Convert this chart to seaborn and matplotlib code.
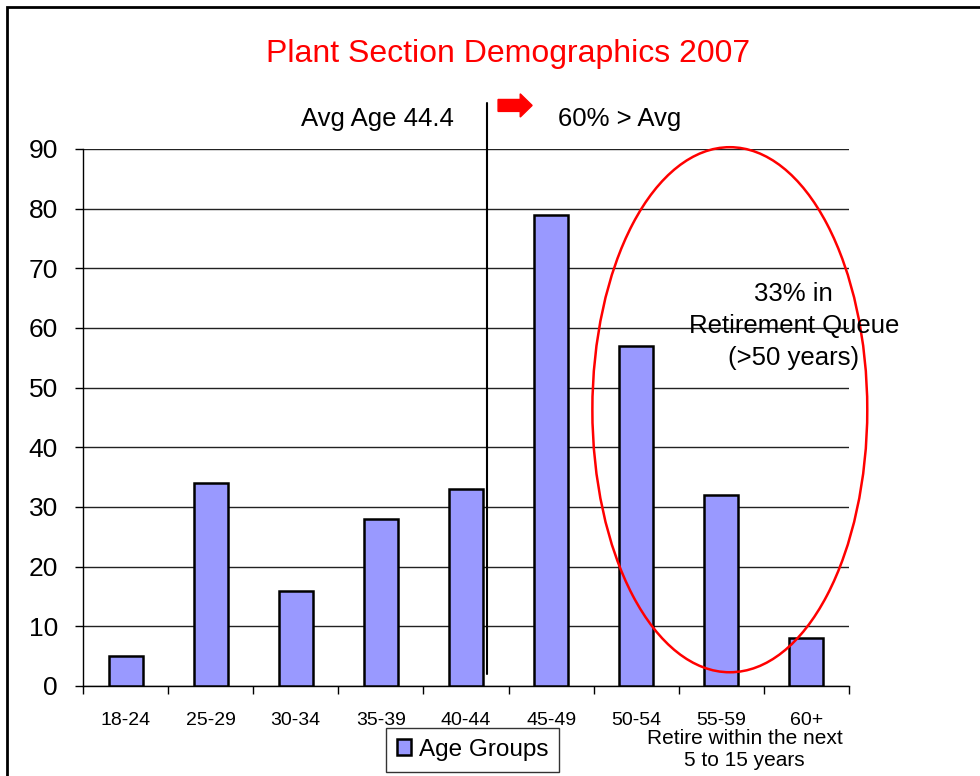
import seaborn as sns
import matplotlib.pyplot as plt
from matplotlib.patches import Ellipse, FancyArrow, Rectangle
import pandas as pd

# Données
age_groups = ["18-24", "25-29", "30-34", "35-39", "40-44", "45-49", "50-54", "55-59", "60+"]
counts = [5, 34, 16, 28, 33, 79, 57, 32, 8]
y_ticks = [0, 10, 20, 30, 40, 50, 60, 70, 80, 90]

df = pd.DataFrame({"age": age_groups, "count": counts})

sns.set_theme(style="white")
plt.rcParams["font.family"] = ["Liberation Sans", "DejaVu Sans"]
plt.rcParams["text.color"] = "black"
plt.rcParams["xtick.color"] = "black"
plt.rcParams["ytick.color"] = "black"

fig = plt.figure(figsize=(9.8, 7.76), dpi=100)
ax = fig.add_axes([0.0847, 0.116, 0.7816, 0.692])

sns.barplot(data=df, x="age", y="count", color="#9999ff", edgecolor="black",
            linewidth=1.8, width=0.4, saturation=1, label="Age Groups", ax=ax, zorder=3)

ax.set_xlim(-0.5, 8.5)
ax.set_ylim(0, 90)
ax.set_yticks(y_ticks)
ax.set_yticklabels([str(v) for v in y_ticks], fontsize=19)
ax.grid(axis="y", color="#222222", linewidth=1, zorder=0)
ax.set_xlabel("")
ax.set_ylabel("")

# ticks x entre les catégories
ax.set_xticks(range(len(age_groups)))
ax.set_xticklabels(age_groups, fontsize=14)
ax.tick_params(axis="x", length=0, pad=19)
ax.set_xticks([i - 0.5 for i in range(len(age_groups) + 1)], minor=True)
ax.tick_params(axis="x", which="minor", length=6, width=1, color="black", direction="out", bottom=True)
ax.tick_params(axis="y", length=6, width=1, color="black", direction="out", left=True, pad=12)

for s in ["top", "right"]:
    ax.spines[s].set_visible(False)
for s in ["left", "bottom"]:
    ax.spines[s].set_color("black")
    ax.spines[s].set_linewidth(1)

# Titre
fig.text(0.518, 0.930, "Plant Section Demographics 2007", color="red", fontsize=23,
         ha="center", va="center")

# Ligne moyenne et flèche
ax.plot([4.247, 4.247], [2, 97.7], color="black", linewidth=1.5, clip_on=False, zorder=5)
ax.add_patch(FancyArrow(4.377, 97.3, 0.26, 0, width=2.0, head_width=3.9, head_length=0.14,
                        length_includes_head=False, color="red", clip_on=False, zorder=5))
ax.text(2.955, 95.0, "Avg Age 44.4", fontsize=18.5, ha="center", va="center")
ax.text(5.81, 95.0, "60% > Avg", fontsize=18.5, ha="center", va="center")

# Ellipse retraite
ax.add_patch(Ellipse((7.1, 46.3), 3.23, 88, fill=False, edgecolor="red", linewidth=1.8,
                     clip_on=False, zorder=6))
fig.text(0.810, 0.580, "33% in\nRetirement Queue\n(>50 years)", fontsize=18.5, ha="center",
         va="center", linespacing=1.4, zorder=7)
fig.text(0.760, 0.034, "Retire within the next\n5 to 15 years", fontsize=15, ha="center",
         va="center", linespacing=1.2, zorder=7)

# Légende
leg = ax.legend(loc="center", bbox_to_anchor=(0.482, 0.034), bbox_transform=fig.transFigure,
                frameon=True, fancybox=False, edgecolor="black", fontsize=17.5,
                handlelength=0.6, handleheight=0.6, handletextpad=0.3, borderpad=0.45)
leg.get_frame().set_linewidth(1)

# Cadre
fig.patches.append(Rectangle((0.007, -0.05), 1.1, 1.041, transform=fig.transFigure,
                             fill=False, edgecolor="black", linewidth=2))

plt.savefig("out.png", dpi=100)
plt.close()
